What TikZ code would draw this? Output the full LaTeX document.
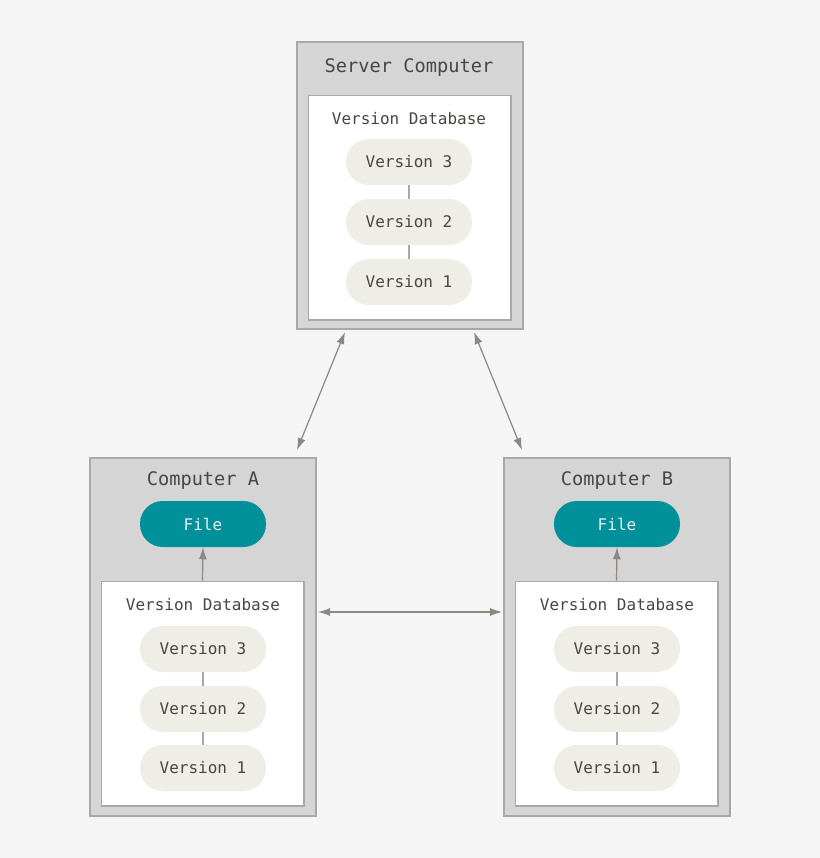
\documentclass[tikz,border=0pt]{standalone}
\usepackage{fontspec}
\setmonofont{DejaVu Sans Mono}
\usetikzlibrary{positioning,arrows.meta}
\definecolor{bgcol}{HTML}{F5F5F5}
\definecolor{boxcol}{HTML}{D5D5D5}
\definecolor{linecol}{HTML}{A8A8A8}
\definecolor{pillcol}{HTML}{EEEDE6}
\definecolor{filecol}{HTML}{00909A}
\definecolor{txtcol}{HTML}{4A4540}
\definecolor{arrcol}{HTML}{8C8781}
\begin{document}
\begin{tikzpicture}[
		x=0.75pt, y=-0.75pt,
		every node/.style={font=\ttfamily, text=txtcol},
		outer/.style={draw=linecol, line width=1.5pt, fill=boxcol, inner sep=0pt},
		inner/.style={draw=linecol, line width=1pt, fill=white, inner sep=0pt},
		title/.style={font=\ttfamily\fontsize{14}{16}\selectfont},
		dbtitle/.style={font=\ttfamily\fontsize{12}{14}\selectfont},
		version/.style={rounded corners=17pt, fill=pillcol, minimum width=94.5pt, minimum height=34.5pt, font=\ttfamily\fontsize{12}{14}\selectfont},
		file/.style={version, fill=filecol, text=white!90!filecol},
		link/.style={draw=linecol, line width=0.8pt},
		>={Latex[length=9pt,width=6pt]},
		sync/.style={draw=arrcol, line width=0.9pt, <->}
	]
  \fill[bgcol] (0,0) rectangle (820,858);
  % server
  \node (srv) [outer, minimum width=169.5pt, minimum height=215pt] at (410,185.5) {};
  \node (srv_t) [title] at (409,68) {Server Computer};
  \node (srv_db) [inner, minimum width=152pt, minimum height=168.5pt] at (409.5,207.5) {};
  \node [dbtitle] at (409,119) {Version Database};
  \node (srv_v3) [version] at (409,162) {Version 3};
  \node (srv_v2) [version] at (409,222) {Version 2};
  \node (srv_v1) [version] at (409,282) {Version 1};
  \draw[link] (srv_v3) -- (srv_v2) (srv_v2) -- (srv_v1);
  % clients
  \foreach \n/\c/\t in {a/203/Computer A, b/617/Computer B} {
    \node (pc_\n) [outer, minimum width=169.5pt, minimum height=268.5pt] at (\c,637) {};
    \node [title] at (\c,481) {\t};
    \node (file_\n) [file] at (\c,524) {File};
    \node (db_\n) [inner, minimum width=152pt, minimum height=168.5pt] at (\c-0.5,693.5) {};
    \node [dbtitle] at (\c,605) {Version Database};
    \node (v3_\n) [version] at (\c,649) {Version 3};
    \node (v2_\n) [version] at (\c,709) {Version 2};
    \node (v1_\n) [version] at (\c,768) {Version 1};
    \draw[link] (v3_\n) -- (v2_\n) (v2_\n) -- (v1_\n);
    \draw[draw=arrcol, line width=0.9pt, ->] (db_\n.north) -- (file_\n.south);
  }
  \coordinate (sa) at (345,332);
  \coordinate (sb) at (474,332);
  \coordinate (ca) at (297,450);
  \coordinate (cb) at (522,450);
  \coordinate (ha) at (318,612);
  \coordinate (hb) at (502,612);
  \draw[sync] (sa) -- (ca);
  \draw[sync] (sb) -- (cb);
  \draw[sync] (ha) -- (hb);
\end{tikzpicture}
\end{document}
